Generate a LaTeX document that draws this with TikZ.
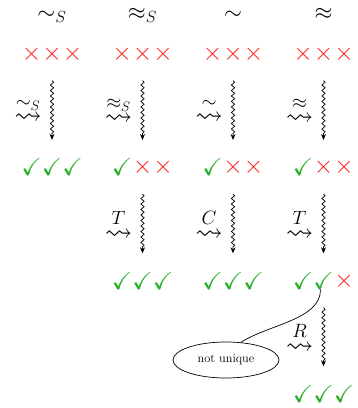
\documentclass[tikz,border=0pt]{standalone}
\usepackage{fix-cm}
\usepackage{amssymb}
\usetikzlibrary{decorations.pathmorphing,arrows.meta,calc,shapes.geometric}
\definecolor{okgreen}{RGB}{40,175,40}
\definecolor{nored}{RGB}{255,30,30}
\tikzset{
  mk/.style={inner sep=0pt, minimum height=16pt, minimum width=14pt},
  okmark/.style={mk, text=okgreen, font=\fontsize{24.5}{25}\selectfont, node contents={$\checkmark$}},
  nomark/.style={mk, text=nored, font=\fontsize{25}{25}\selectfont, node contents={$\times$}},
  hdr/.style={inner sep=0pt, anchor=base, font=\fontsize{23}{23}\selectfont},
  lab/.style={inner sep=0pt, anchor=east, font=\fontsize{27.5}{28}\selectfont},
  wig/.style={line width=0.7pt, decorate,
    decoration={snake, amplitude=1.6pt, segment length=5.5pt, post length=5pt},
    -{Stealth[length=6pt,width=5pt]}},
  bubble/.style={ellipse, draw, line width=0.7pt, minimum width=106pt, minimum height=36pt,
    inner sep=0pt, font=\fontsize{12.3}{14}\selectfont},
  link/.style={line width=0.7pt},
}
\newcommand\mkrow[6]{%
  \node (#1-1) at (#2-20.5,#3) [#4];
  \node (#1-2) at (#2,#3) [#5];
  \node (#1-3) at (#2+20.5,#3) [#6];}
\begin{document}
\begin{tikzpicture}[x=1pt,y=-1pt]
\useasboundingbox (0,0) rectangle (358,408);
% headers
\node[hdr] (h1) at (52,19) {$\sim_S$};
\node[hdr] (h2) at (142.5,19) {$\approx_S$};
\node[hdr] (h3) at (233,19) {$\sim$};
\node[hdr] (h4) at (323.5,19) {$\approx$};
% row 1
\mkrow{r1c1}{52}{54}{nomark}{nomark}{nomark}
\mkrow{r1c2}{142.5}{54}{nomark}{nomark}{nomark}
\mkrow{r1c3}{233}{54}{nomark}{nomark}{nomark}
\mkrow{r1c4}{323.5}{54}{nomark}{nomark}{nomark}
% row 2
\mkrow{r2c1}{52}{167.5}{okmark}{okmark}{okmark}
\mkrow{r2c2}{142.5}{167.5}{okmark}{nomark}{nomark}
\mkrow{r2c3}{233}{167.5}{okmark}{nomark}{nomark}
\mkrow{r2c4}{323.5}{167.5}{okmark}{nomark}{nomark}
% row 3
\mkrow{r3c2}{142.5}{281}{okmark}{okmark}{okmark}
\mkrow{r3c3}{233}{281}{okmark}{okmark}{okmark}
\mkrow{r3c4}{323.5}{281}{okmark}{okmark}{nomark}
% row 4
\mkrow{r4c4}{323.5}{394}{okmark}{okmark}{okmark}
% arrows
\foreach \c in {1,2,3,4}{
  \draw[wig] ([yshift=-18pt]r1c\c-2.south) -- ([yshift=19pt]r2c\c-2.north);
}
\foreach \c in {2,3,4}{
  \draw[wig] ([yshift=-18pt]r2c\c-2.south) -- ([yshift=19pt]r3c\c-2.north);
}
\draw[wig] ([yshift=-18pt]r3c4-2.south) -- ([yshift=19pt]r4c4-2.north);
% labels
\node[lab] (a1c1) at ($(r1c1-2)!0.5!(r2c1-2)+(-10,0)$) {$\stackrel{\sim_S}{\rightsquigarrow}$};
\node[lab] (a1c2) at ($(r1c2-2)!0.5!(r2c2-2)+(-10,0)$) {$\stackrel{\approx_S}{\rightsquigarrow}$};
\node[lab] (a1c3) at ($(r1c3-2)!0.5!(r2c3-2)+(-10,0)$) {$\stackrel{\sim}{\rightsquigarrow}$};
\node[lab] (a1c4) at ($(r1c4-2)!0.5!(r2c4-2)+(-10,0)$) {$\stackrel{\approx}{\rightsquigarrow}$};
\node[lab] (a2c2) at ($(r2c2-2)!0.5!(r3c2-2)+(-10,0)$) {$\stackrel{T}{\rightsquigarrow}$};
\node[lab] (a2c3) at ($(r2c3-2)!0.5!(r3c3-2)+(-10,0)$) {$\stackrel{C}{\rightsquigarrow}$};
\node[lab] (a2c4) at ($(r2c4-2)!0.5!(r3c4-2)+(-10,0)$) {$\stackrel{T}{\rightsquigarrow}$};
\node[lab] (a3c4) at ($(r3c4-2)!0.5!(r4c4-2)+(-10,0)$) {$\stackrel{R}{\rightsquigarrow}$};
% not unique
\node[bubble] (nu) at (226,360) {not unique};
\draw[link] ([xshift=-3pt]r3c4-2.south) .. controls +(0,30) and +(28,-18) .. (nu.50);
\end{tikzpicture}
\end{document}
